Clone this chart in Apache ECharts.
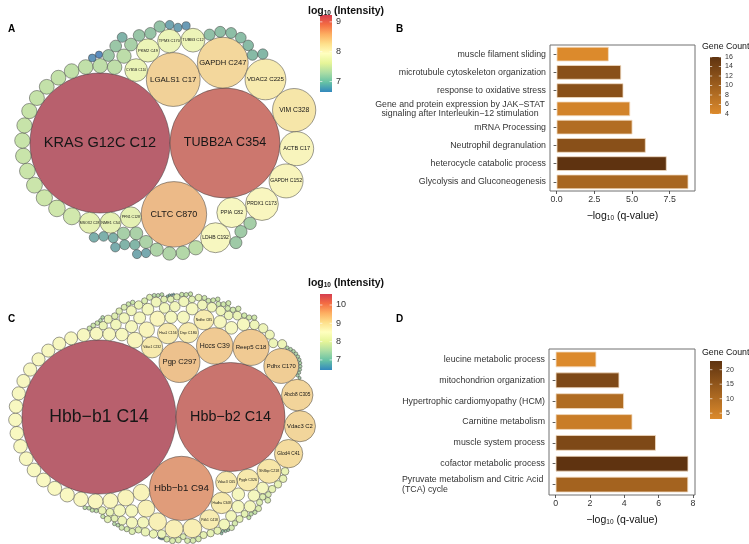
<!DOCTYPE html>
<html><head><meta charset="utf-8">
<script src="https://cdn.jsdelivr.net/npm/echarts@6/dist/echarts.min.js"></script>
<style>html,body{margin:0;padding:0;background:#fff}#c{width:749px;height:544px}</style>
</head><body><div id="c"></div>
<script>
// ---------------- DATA ----------------
// Panel A: log10 intensity per peptide, in packing order; names for the labelled ones
const namesA = ['KRAS G12C C12','TUBB2A C354','CLTC C870','LGALS1 C17','GAPDH C247','VDAC2 C225','VIM C328','ACTB C17','GAPDH C152','PRDX1 C173','PPIA C82','LDHB C192','CYB5B C110','PKM2 C49','TPM3 C170','TUBB3 C12','PFN1 C128','NME1 C54','MSOX2 C28'];
const valuesA = [9.23,9.02,8.57,8.40,8.35,8.16,8.21,8.00,8.00,7.97,7.89,7.89,7.65,7.67,7.68,7.69,7.58,7.58,7.58,
  7.40,7.38,7.36,7.34,7.33,7.32,7.31,7.30,7.30,7.29,7.28,7.28,7.27,7.27,7.26,7.26,7.25,7.25,
  7.20,7.19,7.18,7.17,7.16,7.15,7.14,7.13,
  7.11,7.10,7.09,7.08,7.07,7.06,7.05,
  7.03,7.02,7.01,7.00,6.99,6.98,
  6.96,6.95,6.94,6.93,6.92,6.91,6.90,
  6.88,6.86,6.85,6.83,6.80,6.76,6.72,6.65];

// Panel C
const namesC = ['Hbb−b1 C14','Hbb−b2 C14','Hbb−b1 C94','Pgp C297','Hccs C39','Reep5 C18','Pdhx C170','Abcb8 C305','Vdac3 C2','Glod4 C41','Sh3bp C218','Pygb C326','Vdac3 C65','Hadha C348','Vdac1 C232','Hsa1 C156','Dsp C180','Nrdhe C85','Pdk1 C418'];
const valuesC = [10.60,10.30,9.84,9.45,9.35,9.34,9.31,9.22,9.21,9.13,8.99,8.90,8.89,8.88,8.88,8.86,8.84,8.83,8.82,
  8.77,8.74,8.72,8.69,8.66,8.65,8.62,8.61,8.59,8.58,8.57,8.55,
  8.53,8.52,8.51,8.50,8.50,8.49,8.49,8.48,8.48,8.47,8.47,8.47,8.46,8.46,8.45,8.45,8.45,8.44,8.44,8.43,8.43,8.43,8.42,8.42,8.41,8.41,8.40,8.40,8.39,8.39,8.38,8.37,8.37,8.36,8.35,8.34,
  8.33,8.32,8.30,8.30,8.28,8.27,8.27,8.25,8.24,8.23,8.22,8.21,8.19,8.18,8.18,8.16,8.15,8.14,8.13,8.12,
  8.11,8.10,8.08,8.08,8.07,8.05,8.05,8.04,8.02,8.01,8.00,7.99,7.98,7.97,7.96,7.96,7.94,7.93,7.93,7.91,7.90,7.90,7.89,7.88,7.87,
  7.86,7.86,7.85,7.84,7.83,7.83,7.82,7.81,7.80,7.80,7.79,7.78,7.77,7.77,7.76,7.75,7.75,7.74,7.73,7.72,7.72,7.71,7.70,7.70,7.69,7.68,7.68,7.67,7.66,7.65,
  7.64,7.63,7.63,7.61,7.60,7.59,7.58,7.58,7.56,7.55,7.54,7.53,7.52,7.51,7.50,7.49,7.48,7.47,7.46,7.45,7.44,7.43,7.42,7.41,7.40,7.39,7.38,7.37,7.36,7.35,7.34,7.33,7.32,7.31,7.30,7.29,7.28,7.27,7.25,7.24,
  7.22,7.19,7.16,7.13,7.10,7.06,7.01,6.96,6.90,6.83,6.75,6.66,6.55,6.45];

const termsB = ['muscle filament sliding','microtubule cytoskeleton organization','response to oxidative stress','Gene and protein expression by JAK−STAT\nsignaling after Interleukin−12 stimulation','mRNA Processing','Neutrophil degranulation','heterocycle catabolic process','Glycolysis and Gluconeogenesis'];
const qB = [3.46,4.28,4.43,4.88,5.03,5.91,7.30,8.74];
const countB = [4,12,12,5,8,12,16,9];
const xTicksB = [0,2.5,5,7.5];
const countTicksB = [4,6,8,10,12,14,16];

const termsD = ['leucine metabolic process','mitochondrion organization','Hypertrophic cardiomyopathy (HCM)','Carnitine metabolism','muscle system process','cofactor metabolic process','Pyruvate metabolism and Citric Acid\n(TCA) cycle'];
const qD = [2.37,3.71,3.98,4.47,5.84,7.73,7.72];
const countD = [3,18,10,6,18,23,12];
const xTicksD = [0,2,4,6,8];
const countTicksD = [5,10,15,20];

const intTicksA = [7,8,9];
const intTicksC = [7,8,9,10];

// ---------------- STYLE ----------------
const FONT = "'Liberation Sans', Arial, Helvetica, sans-serif";
const circlePalette = ['#5b8cbf','#86b9a6','#c6e3a9','#e9f3b5','#f9f8c2','#f6e3a4','#ebb887','#d6836f','#b8606d'];
const barPalette = ['#3288BD','#66C2A5','#ABDDA4','#E6F598','#FFFFBF','#FEE08B','#FDAE61','#F46D43','#D53E4F'];
const countPalette = ['#DC8A2C','#5F3310'];

// ---------------- progressive circle packing (front chain, closest-to-origin) ----------------
function place(b, a, c) {
  var dx = b.x - a.x, x, a2, dy = b.y - a.y, y, b2, d2 = dx * dx + dy * dy;
  if (d2) {
    a2 = a.r + c.r; a2 *= a2; b2 = b.r + c.r; b2 *= b2;
    if (a2 > b2) {
      x = (d2 + b2 - a2) / (2 * d2); y = Math.sqrt(Math.max(0, b2 / d2 - x * x));
      c.x = b.x - x * dx - y * dy; c.y = b.y - x * dy + y * dx;
    } else {
      x = (d2 + a2 - b2) / (2 * d2); y = Math.sqrt(Math.max(0, a2 / d2 - x * x));
      c.x = a.x + x * dx - y * dy; c.y = a.y + x * dy + y * dx;
    }
  } else { c.x = a.x + c.r; c.y = a.y; }
}
function intersects(a, b) {
  var dr = a.r + b.r - 1e-6, dx = b.x - a.x, dy = b.y - a.y;
  return dr > 0 && dr * dr > dx * dx + dy * dy;
}
function Node(c) { this._ = c; this.next = null; this.previous = null; }
function closestNode(start) {
  let best = start, bd = start._.x * start._.x + start._.y * start._.y, nd = start.next;
  while (nd !== start) {
    const d = nd._.x * nd._.x + nd._.y * nd._.y;
    if (d < bd) { bd = d; best = nd; }
    nd = nd.next;
  }
  return best;
}
function packProgressive(circles) {
  const n = circles.length;
  if (!n) return;
  const c0 = circles[0]; c0.x = -c0.r; c0.y = 0;
  if (n < 2) { c0.x = 0; return; }
  const c1 = circles[1]; c1.x = c1.r; c1.y = 0;
  if (n < 3) return;
  place(c1, c0, circles[2]);
  const n0 = new Node(c0), n1 = new Node(c1), n2 = new Node(circles[2]);
  n1.next = n0; n0.previous = n1;
  n0.next = n2; n2.previous = n0;
  n2.next = n1; n1.previous = n2;
  let cm = closestNode(n0), cn = cm.next, guard = 0;
  outer: for (let i = 3; i < n; ++i) {
    if (++guard > 100000) break;
    const c = circles[i];
    place(cn._, cm._, c);
    let j = cn.next, k = cm.previous, sj = cn._.r, sk = cm._.r;
    do {
      if (sj <= sk) {
        if (intersects(j._, c)) { cn = j; cm.next = cn; cn.previous = cm; --i; continue outer; }
        sj += j._.r; j = j.next;
      } else {
        if (intersects(k._, c)) { cm = k; cm.next = cn; cn.previous = cm; --i; continue outer; }
        sk += k._.r; k = k.previous;
      }
    } while (j !== k.next);
    const nd = new Node(c);
    nd.previous = cm; nd.next = cn; cm.next = nd; cn.previous = nd;
    cm = closestNode(nd); cn = cm.next;
  }
}
function buildPack(names, values) {
  const vmax = Math.max.apply(null, values);
  const cs = values.map((v, i) => ({ r: Math.sqrt(Math.pow(10, v - vmax)), v: v, name: names[i] || '' }));
  packProgressive(cs);
  return cs;
}
const A = buildPack(namesA, valuesA);
const C = buildPack(namesC, valuesC);
const minA = Math.min.apply(null, valuesA), maxA = Math.max.apply(null, valuesA);
const minC = Math.min.apply(null, valuesC), maxC = Math.max.apply(null, valuesC);

function circleRender(circles, k) {
  return function (params, api) {
    const p = api.coord([api.value(0), api.value(1)]);
    const r = api.size([api.value(2), 0])[0];
    const name = circles[params.dataIndex].name;
    const ch = [{ type: 'circle', shape: { cx: p[0], cy: p[1], r: r },
      style: { fill: api.visual('color'), stroke: '#3d3d3d', lineWidth: 0.5 } }];
    if (name) {
      const fs = Math.max(2.6, Math.min(k * Math.sqrt(r) - 3, 3.03 * r / name.length));
      ch.push({ type: 'text', style: { text: name, x: p[0], y: p[1], align: 'center', verticalAlign: 'middle',
        fontSize: fs, fontFamily: FONT, fill: '#161616' } });
    }
    return { type: 'group', children: ch };
  };
}
function barRender(vmin, vmax, colors, ticks) {
  return function (params, api) {
    const p0 = api.coord([0, vmax]), p1 = api.coord([1, vmin]);
    const x = p0[0], y = p0[1], w = p1[0] - p0[0], h = p1[1] - p0[1];
    const stops = colors.map((c, i) => ({ offset: 1 - i / (colors.length - 1), color: c })).reverse();
    const ch = [{ type: 'rect', shape: { x: x, y: y, width: w, height: h },
      style: { fill: new echarts.graphic.LinearGradient(0, 0, 0, 1, stops) } }];
    ticks.forEach(t => {
      const ty = api.coord([0, t])[1];
      ch.push({ type: 'line', shape: { x1: x, y1: ty, x2: x + w * 0.2, y2: ty }, style: { stroke: '#fff', lineWidth: 0.8, opacity: 0.8 } });
      ch.push({ type: 'line', shape: { x1: x + w * 0.8, y1: ty, x2: x + w, y2: ty }, style: { stroke: '#fff', lineWidth: 0.8, opacity: 0.8 } });
    });
    return { type: 'group', children: ch };
  };
}

const labelStyle = { fontFamily: FONT, color: '#333' };
function cbYAxis(gi, vmin, vmax, ticks, fs) {
  return { gridIndex: gi, type: 'value', min: vmin, max: vmax, position: 'right',
    axisLine: { show: false }, axisTick: { show: false }, splitLine: { show: false },
    axisLabel: Object.assign({ customValues: ticks, fontSize: fs, margin: 4 }, labelStyle) };
}
function hiddenX(gi) { return { gridIndex: gi, type: 'value', min: 0, max: 1, show: false }; }
const subRich = {
  a: { fontSize: 10.5, fontFamily: FONT, color: '#111' },
  s: { fontSize: 6.5, fontFamily: FONT, color: '#111', verticalAlign: 'bottom', padding: [5, 0, 0, 0] }
};
function barXAxis(gi, data, ticks, fmt) {
  const mx = Math.max.apply(null, data);
  return { gridIndex: gi, type: 'value', min: -0.05 * mx, max: 1.05 * mx,
    axisLine: { show: false }, splitLine: { show: false },
    axisTick: { show: true, customValues: ticks, length: 3, lineStyle: { color: '#333', width: 0.8 } },
    axisLabel: Object.assign({ customValues: ticks, fontSize: 8.8, margin: 4, formatter: fmt }, labelStyle),
    name: '{a|−log}{s|10}{a| (q-value)}', nameLocation: 'middle', nameGap: 19,
    nameTextStyle: { rich: subRich } };
}
function barYAxis(gi, terms, rich) {
  return { gridIndex: gi, type: 'category', data: terms, inverse: true,
    axisLine: { show: false }, splitLine: { show: false },
    axisTick: { show: true, alignWithLabel: true, length: 3, lineStyle: { color: '#333', width: 0.8 } },
    axisLabel: Object.assign({ interval: 0, fontSize: 8.8, margin: 4, lineHeight: 9.5,
      formatter: v => v.indexOf('\n') >= 0 ? v.split('\n').map(s => '{m|' + s + '}').join('\n') : v,
      rich: { m: rich } }, labelStyle) };
}

const option = {
  animation: false,
  backgroundColor: '#fff',
  title: [
    { text: 'A', left: 3, top: 19, textStyle: { fontSize: 10, fontWeight: 'bold', color: '#000', fontFamily: FONT } },
    { text: 'B', left: 391, top: 19, textStyle: { fontSize: 10, fontWeight: 'bold', color: '#000', fontFamily: FONT } },
    { text: 'C', left: 3, top: 309, textStyle: { fontSize: 10, fontWeight: 'bold', color: '#000', fontFamily: FONT } },
    { text: 'D', left: 391, top: 309, textStyle: { fontSize: 10, fontWeight: 'bold', color: '#000', fontFamily: FONT } },
    { text: '{a|log}{s|10}{a| (Intensity)}', left: 303, top: 0, textStyle: { rich: subRich } },
    { text: '{a|log}{s|10}{a| (Intensity)}', left: 303, top: 272, textStyle: { rich: subRich } },
    { text: 'Gene Count', left: 697, top: 37, textStyle: { fontSize: 8.8, color: '#111', fontWeight: 'normal', fontFamily: FONT } },
    { text: 'Gene Count', left: 697, top: 343, textStyle: { fontSize: 8.8, color: '#111', fontWeight: 'normal', fontFamily: FONT } }
  ],
  grid: [
    { left: 0, top: 0, width: 320, height: 270 },
    { left: 320, top: 15, width: 12, height: 77 },
    { left: 550, top: 45, width: 145, height: 146, show: true, borderColor: '#707070', borderWidth: 1 },
    { left: 710, top: 57, width: 11, height: 57 },
    { left: 0, top: 272, width: 320, height: 272 },
    { left: 320, top: 294, width: 12, height: 76 },
    { left: 549, top: 349, width: 146, height: 146, show: true, borderColor: '#707070', borderWidth: 1 },
    { left: 710, top: 361, width: 12, height: 58 }
  ],
  xAxis: [
    { gridIndex: 0, type: 'value', show: false, min: A[0].x - 100 / 70, max: A[0].x - 100 / 70 + 320 / 70 },
    hiddenX(1),
    barXAxis(2, qB, xTicksB, v => v.toFixed(1)),
    hiddenX(3),
    { gridIndex: 4, type: 'value', show: false, min: C[0].x - 99 / 77, max: C[0].x - 99 / 77 + 320 / 77 },
    hiddenX(5),
    barXAxis(6, qD, xTicksD, v => String(v)),
    hiddenX(7)
  ],
  yAxis: [
    { gridIndex: 0, type: 'value', show: false, inverse: true, min: A[0].y - 143 / 70, max: A[0].y - 143 / 70 + 270 / 70 },
    cbYAxis(1, minA, maxA, intTicksA, 9),
    barYAxis(2, termsB, { width: 172, align: 'center', fontSize: 8.8, fontFamily: FONT, color: '#333', lineHeight: 9.5 }),
    cbYAxis(3, Math.min.apply(null, countB), Math.max.apply(null, countB), countTicksB, 7),
    { gridIndex: 4, type: 'value', show: false, inverse: true, min: C[0].y - 145 / 77, max: C[0].y - 145 / 77 + 272 / 77 },
    cbYAxis(5, minC, maxC, intTicksC, 9),
    barYAxis(6, termsD, { width: 143, align: 'left', fontSize: 8.8, fontFamily: FONT, color: '#333', lineHeight: 9.5 }),
    cbYAxis(7, Math.min.apply(null, countD), Math.max.apply(null, countD), countTicksD, 7)
  ],
  visualMap: [
    { type: 'continuous', show: false, seriesIndex: 0, dimension: 3, min: minA, max: maxA, inRange: { color: circlePalette } },
    { type: 'continuous', show: false, seriesIndex: 4, dimension: 3, min: minC, max: maxC, inRange: { color: circlePalette } },
    { type: 'continuous', show: false, seriesIndex: 2, dimension: 2, min: Math.min.apply(null, countB), max: Math.max.apply(null, countB), inRange: { color: countPalette } },
    { type: 'continuous', show: false, seriesIndex: 6, dimension: 2, min: Math.min.apply(null, countD), max: Math.max.apply(null, countD), inRange: { color: countPalette } }
  ],
  series: [
    { type: 'custom', xAxisIndex: 0, yAxisIndex: 0, clip: false, silent: true,
      data: A.map(c => [c.x, c.y, c.r, c.v]), encode: { x: 0, y: 1 }, renderItem: circleRender(A, 2.1) },
    { type: 'custom', xAxisIndex: 1, yAxisIndex: 1, silent: true, clip: false,
      data: [[0, minA]], encode: { x: 0, y: 1 }, renderItem: barRender(minA, maxA, barPalette, intTicksA) },
    { type: 'bar', xAxisIndex: 2, yAxisIndex: 2, silent: true, barCategoryGap: '20%',
      data: qB.map((q, i) => [q, i, countB[i]]), encode: { x: 0, y: 1 },
      itemStyle: { borderColor: '#f3dcc2', borderWidth: 0.8 } },
    { type: 'custom', xAxisIndex: 3, yAxisIndex: 3, silent: true, clip: false,
      data: [[0, 4]], encode: { x: 0, y: 1 },
      renderItem: barRender(Math.min.apply(null, countB), Math.max.apply(null, countB), countPalette, countTicksB) },
    { type: 'custom', xAxisIndex: 4, yAxisIndex: 4, clip: false, silent: true,
      data: C.map(c => [c.x, c.y, c.r, c.v]), encode: { x: 0, y: 1 }, renderItem: circleRender(C, 2.35) },
    { type: 'custom', xAxisIndex: 5, yAxisIndex: 5, silent: true, clip: false,
      data: [[0, minC]], encode: { x: 0, y: 1 }, renderItem: barRender(minC, maxC, barPalette, intTicksC) },
    { type: 'bar', xAxisIndex: 6, yAxisIndex: 6, silent: true, barCategoryGap: '25%',
      data: qD.map((q, i) => [q, i, countD[i]]), encode: { x: 0, y: 1 },
      itemStyle: { borderColor: '#f3dcc2', borderWidth: 0.8 } },
    { type: 'custom', xAxisIndex: 7, yAxisIndex: 7, silent: true, clip: false,
      data: [[0, 5]], encode: { x: 0, y: 1 },
      renderItem: barRender(Math.min.apply(null, countD), Math.max.apply(null, countD), countPalette, countTicksD) }
  ]
};
const chart = echarts.init(document.getElementById('c'), null, { renderer: 'canvas' });
chart.setOption(option);
</script>
</body></html>
